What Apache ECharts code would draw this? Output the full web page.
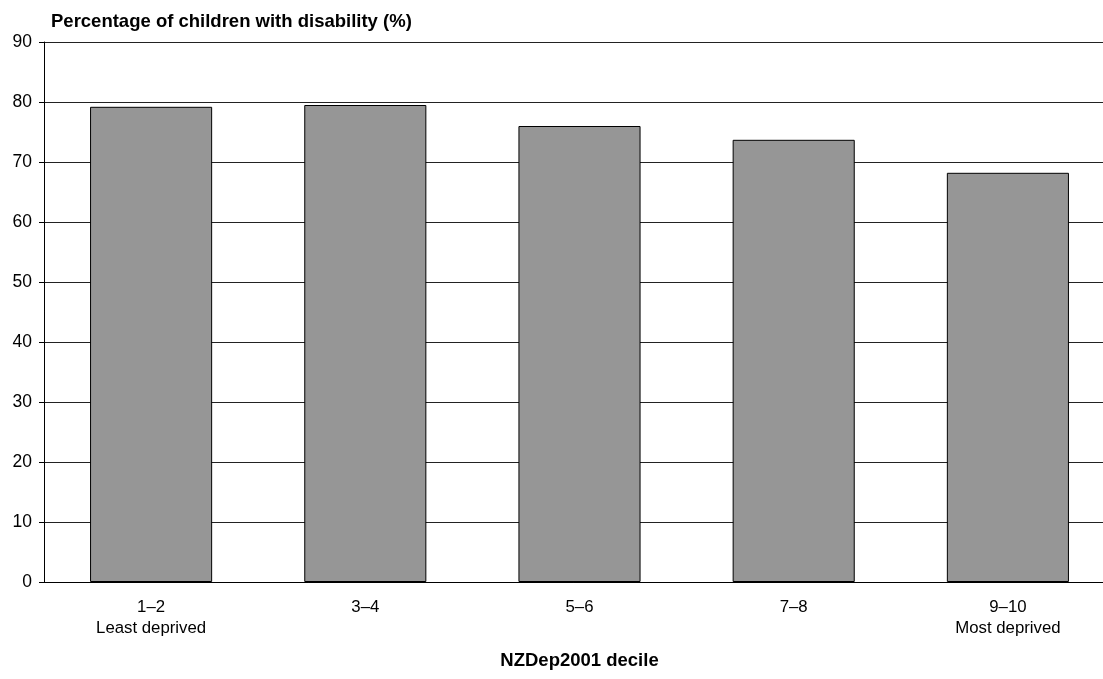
<!DOCTYPE html>
<html><head><meta charset="utf-8">
<script src="https://cdn.jsdelivr.net/npm/echarts@6/dist/echarts.min.js"></script>
<style>html,body{margin:0;padding:0;background:#fff;overflow:hidden}#c{width:1103px;height:679px}</style>
</head><body><div id="c"></div>
<script>
const categories = ['1–2\nLeast deprived', '3–4', '5–6', '7–8', '9–10\nMost deprived'];
const values = [79.2, 79.5, 76.0, 73.7, 68.2];
const yTitle = 'Percentage of children with disability (%)';
const xTitle = 'NZDep2001 decile';

const chart = echarts.init(document.getElementById('c'), null, {renderer: 'canvas'});
chart.setOption({
  animation: false,
  backgroundColor: '#fff',
  textStyle: {fontFamily: 'Liberation Sans, Arial, sans-serif'},
  grid: {left: 44, width: 1071, top: 42, height: 540, containLabel: false, outerBoundsMode: 'none'},
  title: {
    text: yTitle, left: 46, top: 7,
    textStyle: {fontSize: 18.5, fontWeight: 'bold', color: '#000', fontFamily: 'Liberation Sans, Arial, sans-serif'}
  },
  xAxis: {
    type: 'category', data: categories,
    name: xTitle, nameLocation: 'middle', nameGap: 69,
    nameTextStyle: {fontSize: 18.5, fontWeight: 'bold', color: '#000'},
    axisLine: {lineStyle: {color: '#000', width: 1}},
    axisTick: {show: false},
    axisLabel: {fontSize: 16.8, color: '#000', margin: 15, lineHeight: 21}
  },
  yAxis: {
    type: 'value', min: 0, max: 90, interval: 10,
    axisLine: {show: true, lineStyle: {color: '#000', width: 1}},
    axisTick: {show: true, length: 5, lineStyle: {color: '#000'}},
    axisLabel: {fontSize: 17.5, color: '#000', margin: 12},
    splitLine: {lineStyle: {color: '#222', width: 1}}
  },
  series: [{
    type: 'bar', data: values, barCategoryGap: '43%',
    itemStyle: {color: '#969696', borderColor: '#000', borderWidth: 1}
  }]
});
</script></body></html>
